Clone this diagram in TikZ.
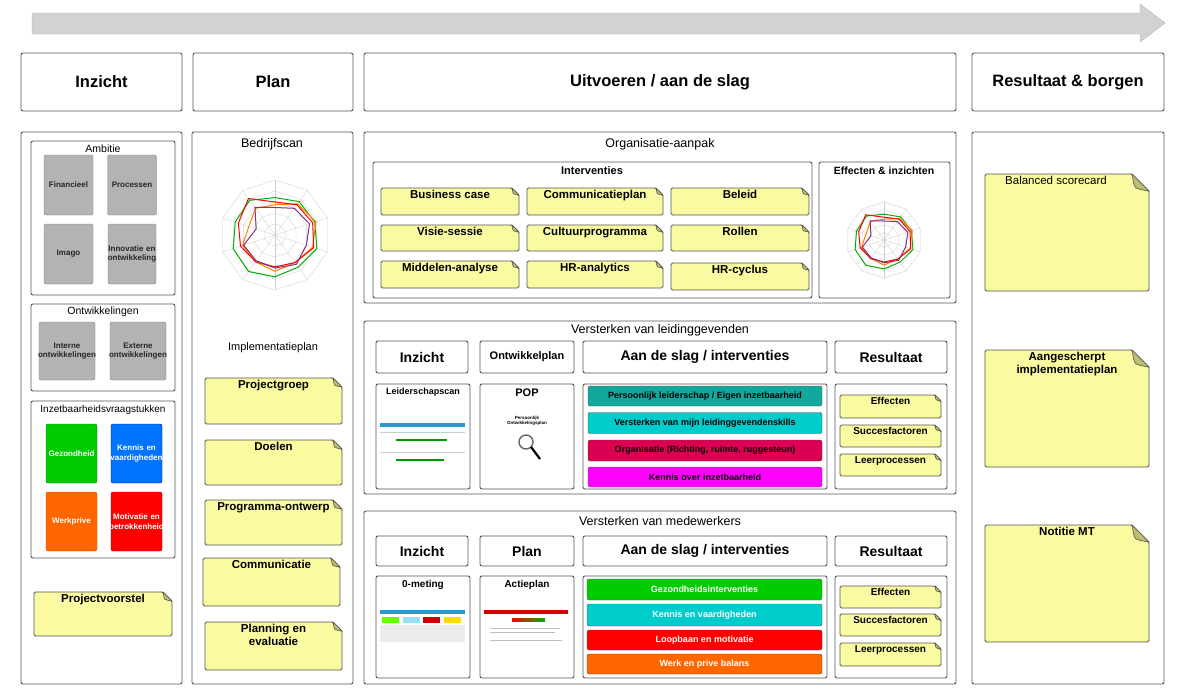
\documentclass[tikz,border=0pt]{standalone}
\usepackage{fontspec}
\setmainfont{Liberation Sans}
\usetikzlibrary{arrows.meta, positioning}
\definecolor{noteyel}{HTML}{FAFAA0}
\definecolor{notefold}{HTML}{BDBD6E}
\definecolor{tilegray}{HTML}{B3B3B3}
\definecolor{frame}{HTML}{555555}
\definecolor{barteal}{HTML}{12A89E}
\definecolor{barcyan}{HTML}{00CCCC}
\definecolor{barcrimson}{HTML}{DB0051}
\definecolor{barmagenta}{HTML}{FF00FF}
\definecolor{bargreen}{HTML}{00CC00}
\definecolor{barred}{HTML}{FF0000}
\definecolor{barorange}{HTML}{FF6600}
\definecolor{tileblue}{HTML}{0073FF}
\tikzset{
  panel/.style = {draw=frame, line width=0.9pt, rounded corners=2pt, fill=white},
  head/.style = {panel, font=\fontsize{16.5}{20}\selectfont\bfseries},
  subhead/.style = {panel, font=\fontsize{14}{16}\selectfont\bfseries},
  title/.style = {font=\fontsize{12.5}{14}\selectfont},
  tile/.style = {draw=gray, rounded corners=2pt, fill=tilegray, text=black!85, align=center,
    font=\fontsize{8}{9.5}\selectfont\bfseries, text width=57pt, inner xsep=-4pt, inner ysep=1pt},
  bar/.style = {draw=frame, rounded corners=2pt, font=\fontsize{9}{11}\selectfont\bfseries},
  note/.style = {draw=frame, line width=0.8pt, fill=noteyel, rounded corners=1.5pt},
  fold/.style = {draw=frame, line width=0.6pt, fill=notefold},
  notetext/.style = {below, align=center, inner sep=2pt, font=\fontsize{11.5}{13}\selectfont\bfseries}
}
% sticky note: name, x1, y1, x2, y2, fold size, text
\newcommand\stick[7]{%
  \filldraw[note] (#2,#3) -- ({#4-#6},#3) -- (#4,{#3+#6}) -- (#4,#5) -- (#2,#5) -- cycle;
  \filldraw[fold] ({#4-#6},#3) -- (#4,{#3+#6}) .. controls ({#4-0.6*#6},{#3+0.9*#6}) .. ({#4-0.8*#6},{#3+0.8*#6})
    .. controls ({#4-0.9*#6},{#3+0.6*#6}) .. cycle;
  \node[notetext] (#1) at ({(#2+#4)/2},#3) {#7};}
% radar chart: centre x, y, radius
\newcommand\radar[3]{%
  \foreach \k in {0.2,0.4,...,1.0}
    \draw[gray!40, line width=0.3pt] ({#1+#3*\k*sin(0)},{#2-#3*\k*cos(0)})
      \foreach \a in {36,72,...,324} { -- ({#1+#3*\k*sin(\a)},{#2-#3*\k*cos(\a)}) } -- cycle;
  \foreach \a in {0,36,...,324}
    \draw[gray!40, line width=0.3pt] (#1,#2) -- ({#1+#3*sin(\a)},{#2-#3*cos(\a)});
  \foreach \c/\v in {green!70!black/{.68,.75,.76,.8,.72,.76,.82,.8,.76,.78},
                     orange/{.55,.7,.78,.72,.62,.66,.6,.62,.5,.6},
                     red/{.6,.68,.72,.74,.62,.58,.6,.66,.7,.82},
                     violet!60!gray/{.5,.6,.66,.6,.66,.6,.58,.6,.36,.62}} {
    \draw[\c, line width=1pt] \foreach [count=\i from 0] \r in \v {
      \ifnum\i=0 ({#1+#3*\r*sin(36*\i)},{#2-#3*\r*cos(36*\i)}) \else
      -- ({#1+#3*\r*sin(36*\i)},{#2-#3*\r*cos(36*\i)}) \fi } -- cycle;
  }}

\begin{document}
\hyphenpenalty=10000
\begin{tikzpicture}[x=1pt, y=-1pt]
\useasboundingbox (0,0) rectangle (1191,696);

% Arrow
\fill[gray!35, draw=gray!60] (32,13) -- (1140,13) -- (1140,4) -- (1165,23) -- (1140,42) -- (1140,34) -- (32,34) -- cycle;

% Headers
\node[head, minimum width=161pt, minimum height=58pt] (hinzicht) at (101.5,82) {Inzicht};
\node[head, minimum width=160pt, minimum height=58pt] (hplan) at (273,82) {Plan};
\node[head, minimum width=592pt, minimum height=58pt] (huitvoeren) at (660,82) {Uitvoeren / aan de slag};
\node[head, minimum width=192pt, minimum height=58pt] (hresultaat) at (1068,82) {Resultaat \& borgen};

% Columns
\draw[panel] (21,132) rectangle (182,684);
\draw[panel] (192,132) rectangle (353,684);
\draw[panel] (972,132) rectangle (1164,684);
\draw[panel] (364,132) rectangle (956,303);
\draw[panel] (364,321) rectangle (956,494);
\draw[panel] (364,511) rectangle (956,684);

% Inzicht column
\draw[panel] (31,141) rectangle (175,295);
\node[title, font=\fontsize{10.5}{12}\selectfont] (tambitie) at (103,149) {Ambitie};
\node[tile, minimum width=49pt, minimum height=60pt] (financieel) at (68.5,185) {Financieel};
\node[tile, minimum width=48pt, minimum height=60pt] (processen) at (132,185) {Processen};
\node[tile, minimum width=49pt, minimum height=60pt] (imago) at (68.5,254) {Imago};
\node[tile, minimum width=48pt, minimum height=60pt, text width=56pt] (innovatie) at (132,254) {Innovatie en ontwikkeling};
\draw[panel] (31,304) rectangle (175,391);
\node[title, font=\fontsize{10.5}{12}\selectfont] (tontw) at (103,312) {Ontwikkelingen};
\node[tile, minimum width=56pt, minimum height=58pt, text width=64pt] (interne) at (67,351) {Interne ontwikkelingen};
\node[tile, minimum width=56pt, minimum height=58pt, text width=64pt] (externe) at (138,351) {Externe ontwikkelingen};
\draw[panel] (31,401) rectangle (175,558);
\node[title, font=\fontsize{10}{12}\selectfont] (tvraag) at (103,410) {Inzetbaarheidsvraagstukken};
\node[tile, fill=bargreen, draw=green!50!black, text=white, minimum width=51pt, minimum height=59pt, text width=59pt] (gezondheid) at (71.5,453.5) {Gezondheid};
\node[tile, fill=tileblue, draw=blue!60!black, text=white, minimum width=51pt, minimum height=59pt, text width=59pt] (kennis) at (136.5,453.5) {Kennis en vaardigheden};
\node[tile, fill=barorange, draw=orange!70!black, text=white, minimum width=51pt, minimum height=59pt, text width=59pt] (werkprive) at (71.5,521.5) {Werkprive};
\node[tile, fill=barred, draw=red!60!black, text=white, minimum width=51pt, minimum height=59pt, text width=59pt] (motivatie) at (136.5,521.5) {Motivatie en betrokkenheid};
\stick{projectvoorstel}{34}{592}{172}{636}{9}{Projectvoorstel}

% Plan column
\node[title] (tbedrijf) at (272,144) {Bedrijfscan};
\radar{275}{235}{55}
\node[title, font=\fontsize{11}{13}\selectfont] (timpl) at (273,348) {Implementatieplan};
\stick{projectgroep}{205}{378}{342}{424}{9}{Projectgroep}
\stick{doelen}{205}{440}{342}{485}{9}{Doelen}
\stick{programma}{205}{500}{342}{545}{9}{Programma-ontwerp}
\stick{communicatie}{203}{558}{340}{606}{9}{Communicatie}
\stick{planning}{205}{622}{342}{670}{9}{Planning en\\evaluatie}

% Organisatie-aanpak
\node[title] (torg) at (660,144) {Organisatie-aanpak};
\draw[panel] (373,162) rectangle (812,298);
\node[font=\fontsize{11}{13}\selectfont\bfseries] (tinterv) at (592,171) {Interventies};
\stick{business}{381}{188}{519}{215}{7}{Business case}
\stick{commplan}{527}{188}{663}{215}{7}{Communicatieplan}
\stick{beleid}{671}{188}{809}{215}{7}{Beleid}
\stick{visie}{381}{225}{519}{251}{7}{Visie-sessie}
\stick{cultuur}{527}{225}{663}{251}{7}{Cultuurprogramma}
\stick{rollen}{671}{225}{809}{251}{7}{Rollen}
\stick{middelen}{381}{261}{519}{288}{7}{Middelen-analyse}
\stick{hranalytics}{527}{261}{663}{288}{7}{HR-analytics}
\stick{hrcyclus}{671}{263}{809}{290}{7}{HR-cyclus}
\draw[panel] (819,162) rectangle (950,298);
\node[font=\fontsize{10.5}{12}\selectfont\bfseries] (teffect) at (884,171) {Effecten \& inzichten};
\radar{884}{240}{38}

% Leidinggevenden
\node[title] (tleiding) at (660,330) {Versterken van leidinggevenden};
\node[subhead, minimum width=92pt, minimum height=32pt] (linzicht) at (422,357) {Inzicht};
\node[subhead, font=\fontsize{11}{13}\selectfont\bfseries, minimum width=94pt, minimum height=32pt] (lplan) at (527,357) {Ontwikkelplan};
\node[subhead, minimum width=244pt, minimum height=32pt] (lslag) at (705,357) {Aan de slag / interventies};
\node[subhead, minimum width=112pt, minimum height=32pt] (lres) at (891,357) {Resultaat};
\draw[panel] (376,384) rectangle (470,489);
\node[font=\fontsize{9}{11}\selectfont\bfseries] (lscan) at (423,392) {Leiderschapscan};
\fill[cyan!60!teal] (380,423) rectangle (465,427);
\draw[green!60!black, line width=1.5pt] (396,440) -- (447,440) (396,460) -- (444,460);
\draw[gray!40, line width=0.4pt] (380,432) -- (465,432) (380,452) -- (465,452);
\draw[panel] (480,384) rectangle (574,489);
\node[font=\fontsize{11}{13}\selectfont\bfseries] (pop) at (527,393) {POP};
\node[font=\fontsize{4.5}{5.5}\selectfont\bfseries, align=center] (popsub) at (527,421) {Persoonlijk\\Ontwikkelingsplan};
\draw[line width=1.4pt, gray!80!black] (526,442) circle (7);
\draw[line width=2.2pt] (531,447) -- (540,459);
\draw[panel] (583,384) rectangle (827,489);
\node[bar, fill=barteal, minimum width=234pt, minimum height=20pt] (persoonlijk) at (705,396) {Persoonlijk leiderschap / Eigen inzetbaarheid};
\node[bar, fill=barcyan, minimum width=234pt, minimum height=21pt] (versterken) at (705,423) {Versterken van mijn leidinggevendenskills};
\node[bar, fill=barcrimson, minimum width=234pt, minimum height=21pt] (organisatie) at (705,450.5) {Organisatie (Richting, ruimte, ruggesteun)};
\node[bar, fill=barmagenta, minimum width=234pt, minimum height=20pt] (kennisinzet) at (705,477) {Kennis over inzetbaarheid};
\draw[panel] (835,384) rectangle (947,489);
\stick{leffecten}{840}{395}{941}{418}{6}{\fontsize{10}{12}\selectfont Effecten}
\stick{lsucces}{840}{425}{941}{447}{6}{\fontsize{10}{12}\selectfont Succesfactoren}
\stick{lleer}{840}{454}{941}{476}{6}{\fontsize{10}{12}\selectfont Leerprocessen}

% Medewerkers
\node[title] (tmede) at (660,521) {Versterken van medewerkers};
\node[subhead, minimum width=92pt, minimum height=30pt] (minzicht) at (422,551) {Inzicht};
\node[subhead, minimum width=94pt, minimum height=30pt] (mplan) at (527,551) {Plan};
\node[subhead, minimum width=244pt, minimum height=30pt] (mslag) at (705,551) {Aan de slag / interventies};
\node[subhead, minimum width=112pt, minimum height=30pt] (mres) at (891,551) {Resultaat};
\draw[panel] (376,576) rectangle (470,678);
\node[font=\fontsize{10}{12}\selectfont\bfseries] (nulmeting) at (423,585) {0-meting};
\fill[cyan!60!teal] (380,610) rectangle (465,614);
\foreach \c [count=\i from 0] in {green!60!yellow, cyan!40, red!80!black, yellow!80!orange}
  \fill[\c] ({382+\i*20.5},617) rectangle ({399+\i*20.5},623);
\fill[gray!15] (380,625) rectangle (465,642);
\draw[panel] (480,576) rectangle (574,678);
\node[font=\fontsize{10}{12}\selectfont\bfseries] (actieplan) at (527,585) {Actieplan};
\fill[red!85!black] (484,610) rectangle (568,614);
\shade[left color=red, right color=green!70!black] (512,618) rectangle (545,621);
\draw[gray!50, line width=0.4pt] (490,628) -- (560,628) (490,632) -- (555,632) (490,640) -- (562,640);
\draw[panel] (583,576) rectangle (827,678);
\node[bar, fill=bargreen, text=white, minimum width=235pt, minimum height=21pt] (gezondheidsint) at (704.5,589.5) {Gezondheidsinterventies};
\node[bar, fill=barcyan, text=white, minimum width=235pt, minimum height=22pt] (kennisvaard) at (704.5,615) {Kennis en vaardigheden};
\node[bar, fill=barred, text=white, minimum width=235pt, minimum height=20pt] (loopbaan) at (704.5,640) {Loopbaan en motivatie};
\node[bar, fill=barorange, text=white, minimum width=235pt, minimum height=20pt] (werkbalans) at (704.5,664) {Werk en prive balans};
\draw[panel] (835,576) rectangle (947,678);
\stick{meffecten}{840}{586}{941}{608}{6}{\fontsize{10}{12}\selectfont Effecten}
\stick{msucces}{840}{614}{941}{636}{6}{\fontsize{10}{12}\selectfont Succesfactoren}
\stick{mleer}{840}{643}{941}{666}{6}{\fontsize{10}{12}\selectfont Leerprocessen}

% Resultaat & borgen
\stick{scorecard}{985}{174}{1149}{291}{17}{\mdseries Balanced scorecard\hspace*{22pt}}
\stick{aangescherpt}{985}{350}{1149}{467}{17}{Aangescherpt\\implementatieplan}
\stick{notitie}{985}{525}{1149}{642}{17}{Notitie MT}
\end{tikzpicture}
\end{document}
